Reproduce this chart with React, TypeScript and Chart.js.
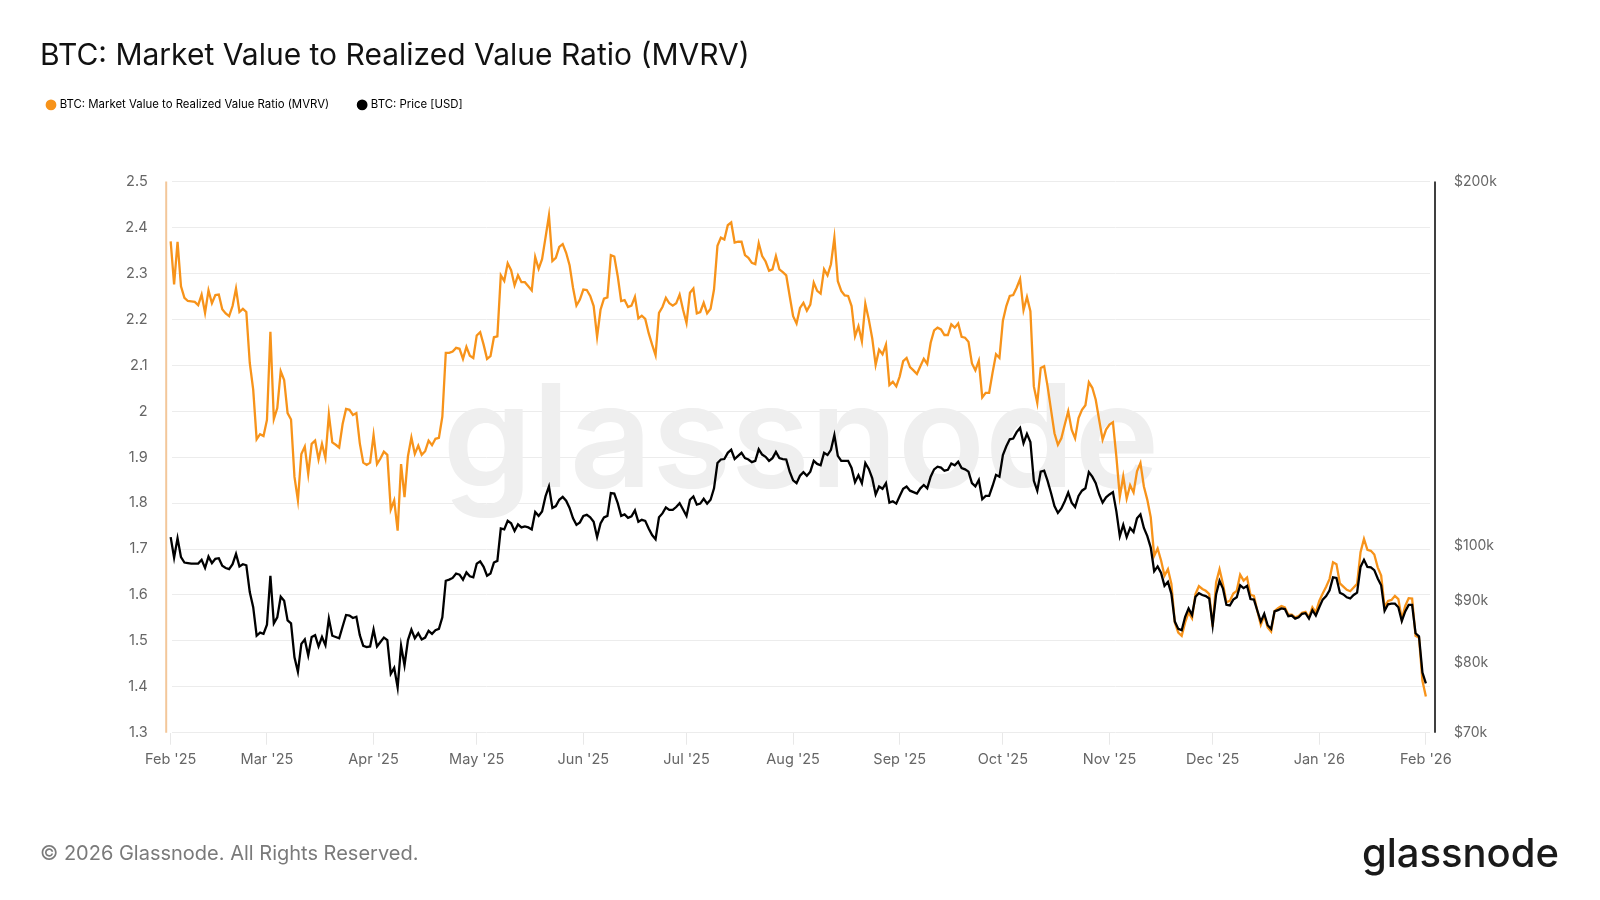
import { useEffect, useRef } from 'react'
import { Chart, registerables } from 'chart.js'

Chart.register(...registerables)

const FONT = 'Inter'

const titleText = 'BTC: Market Value to Realized Value Ratio (MVRV)'
const footerText = '© 2026 Glassnode. All Rights Reserved.'
const brandText = 'glassnode'

// days since 1 Feb 2025, one value per day
const mvrv = [
  2.37, 2.276, 2.369, 2.272, 2.247, 2.24, 2.239, 2.238, 2.231, 2.254,
  2.214, 2.263, 2.235, 2.253, 2.254, 2.222, 2.213, 2.207, 2.229, 2.267,
  2.216, 2.223, 2.216, 2.105, 2.047, 1.939, 1.95, 1.946, 1.981, 2.173,
  1.983, 2.007, 2.087, 2.068, 1.996, 1.982, 1.857, 1.806, 1.907, 1.923,
  1.863, 1.929, 1.936, 1.895, 1.929, 1.898, 1.993, 1.932, 1.927, 1.921,
  1.972, 2.005, 2.003, 1.992, 1.996, 1.93, 1.888, 1.883, 1.888, 1.948,
  1.885, 1.897, 1.912, 1.905, 1.786, 1.806, 1.74, 1.885, 1.813, 1.902,
  1.943, 1.907, 1.925, 1.905, 1.913, 1.936, 1.926, 1.94, 1.942, 1.988,
  2.127, 2.127, 2.13, 2.138, 2.136, 2.114, 2.14, 2.121, 2.116, 2.165,
  2.172, 2.145, 2.114, 2.12, 2.161, 2.163, 2.296, 2.284, 2.322, 2.307,
  2.274, 2.296, 2.281, 2.281, 2.272, 2.263, 2.336, 2.31, 2.331, 2.378,
  2.426, 2.327, 2.334, 2.358, 2.364, 2.345, 2.318, 2.269, 2.23, 2.243,
  2.265, 2.264, 2.251, 2.229, 2.162, 2.221, 2.245, 2.248, 2.34, 2.337,
  2.294, 2.24, 2.242, 2.227, 2.23, 2.249, 2.202, 2.208, 2.201, 2.17,
  2.145, 2.122, 2.214, 2.227, 2.247, 2.235, 2.23, 2.235, 2.254, 2.221,
  2.192, 2.258, 2.267, 2.213, 2.216, 2.236, 2.213, 2.223, 2.265, 2.36,
  2.378, 2.374, 2.405, 2.411, 2.367, 2.369, 2.369, 2.34, 2.334, 2.323,
  2.32, 2.366, 2.338, 2.326, 2.306, 2.309, 2.338, 2.309, 2.303, 2.296,
  2.251, 2.207, 2.191, 2.225, 2.236, 2.219, 2.232, 2.28, 2.262, 2.256,
  2.309, 2.296, 2.32, 2.378, 2.283, 2.262, 2.252, 2.251, 2.229, 2.163,
  2.185, 2.152, 2.234, 2.2, 2.159, 2.101, 2.134, 2.124, 2.145, 2.057,
  2.064, 2.054, 2.076, 2.109, 2.116, 2.096, 2.089, 2.081, 2.098, 2.114,
  2.103, 2.149, 2.176, 2.182, 2.178, 2.166, 2.166, 2.189, 2.182, 2.191,
  2.162, 2.16, 2.151, 2.104, 2.089, 2.11, 2.03, 2.04, 2.04, 2.084,
  2.124, 2.116, 2.197, 2.229, 2.251, 2.253, 2.269, 2.288, 2.22, 2.249,
  2.218, 2.054, 2.018, 2.094, 2.098, 2.054, 2.003, 1.952, 1.927, 1.941,
  1.971, 2.0, 1.96, 1.941, 1.985, 2.003, 2.013, 2.063, 2.051, 2.025,
  1.981, 1.938, 1.96, 1.971, 1.976, 1.901, 1.814, 1.858, 1.81, 1.839,
  1.823, 1.869, 1.887, 1.836, 1.807, 1.769, 1.685, 1.701, 1.675, 1.642,
  1.656, 1.624, 1.54, 1.518, 1.511, 1.54, 1.562, 1.549, 1.602, 1.619,
  1.613, 1.609, 1.602, 1.531, 1.627, 1.656, 1.624, 1.584, 1.587, 1.603,
  1.609, 1.644, 1.631, 1.638, 1.6, 1.598, 1.565, 1.535, 1.555, 1.529,
  1.52, 1.565, 1.571, 1.576, 1.573, 1.557, 1.557, 1.551, 1.554, 1.561,
  1.563, 1.551, 1.573, 1.562, 1.587, 1.603, 1.618, 1.635, 1.671, 1.667,
  1.625, 1.618, 1.611, 1.608, 1.616, 1.624, 1.693, 1.722, 1.698, 1.696,
  1.688, 1.66, 1.642, 1.573, 1.587, 1.589, 1.598, 1.591, 1.547, 1.576,
  1.593, 1.592, 1.511, 1.507, 1.413, 1.379,
]

// thousands of USD
const price = [
  101.6, 97.7, 101.4, 97.8, 96.8, 96.7, 96.6, 96.6, 96.6, 97.3,
  95.8, 97.9, 96.7, 97.5, 97.6, 96.2, 95.8, 95.6, 96.5, 98.4,
  96.1, 96.5, 96.3, 91.5, 88.9, 84.2, 84.7, 84.5, 86.0, 94.4,
  86.2, 87.2, 90.7, 90.0, 86.7, 86.2, 80.8, 78.6, 82.9, 83.6,
  81.1, 84.0, 84.3, 82.5, 84.0, 82.7, 87.0, 84.2, 84.0, 83.8,
  85.7, 87.6, 87.5, 87.1, 87.3, 84.3, 82.6, 82.4, 82.5, 85.2,
  82.5, 83.2, 83.9, 83.5, 78.3, 79.2, 76.3, 82.6, 79.6, 83.5,
  85.2, 83.8, 84.6, 83.6, 83.9, 85.0, 84.5, 85.1, 85.3, 87.2,
  93.5, 93.7, 94.0, 94.8, 94.6, 93.7, 95.0, 94.3, 94.1, 96.6,
  97.0, 96.0, 94.4, 94.8, 96.8, 97.1, 103.3, 103.1, 104.8, 104.3,
  102.8, 104.1, 103.5, 103.7, 103.5, 103.1, 106.6, 105.8, 106.7, 109.8,
  111.9, 107.4, 107.8, 109.1, 109.7, 108.9, 107.4, 105.3, 104.0, 104.5,
  105.8, 106.0, 105.5, 104.6, 101.6, 104.3, 105.5, 105.8, 110.5, 110.4,
  108.4, 105.8, 106.1, 105.4, 105.7, 106.9, 104.6, 105.0, 104.8, 103.3,
  102.0, 101.2, 105.5, 106.3, 107.5, 107.0, 107.0, 107.6, 108.4, 107.1,
  105.8, 109.1, 109.8, 108.1, 108.3, 109.3, 108.3, 109.1, 111.5, 117.0,
  117.8, 117.9, 119.3, 120.0, 117.9, 118.6, 119.3, 118.1, 117.8, 117.2,
  117.5, 120.1, 118.9, 118.4, 117.5, 118.1, 119.5, 118.1, 117.9, 117.8,
  115.1, 113.2, 112.6, 114.2, 115.0, 114.2, 115.1, 117.5, 116.8, 116.5,
  119.3, 118.8, 120.0, 123.4, 118.6, 117.5, 117.5, 117.5, 115.9, 112.8,
  114.3, 112.6, 117.0, 115.7, 113.7, 110.2, 111.9, 111.4, 112.6, 108.5,
  108.8, 108.3, 109.9, 111.4, 111.9, 111.0, 110.7, 110.4, 111.5, 112.2,
  111.5, 114.0, 115.6, 116.2, 116.0, 115.3, 115.5, 116.9, 116.5, 117.3,
  115.9, 115.6, 115.1, 112.6, 111.9, 113.3, 109.2, 109.9, 109.9, 112.0,
  114.4, 114.0, 118.8, 120.8, 122.4, 122.6, 124.1, 125.1, 121.5, 123.7,
  121.8, 113.1, 111.0, 115.1, 115.3, 113.1, 110.5, 107.8, 106.4, 107.3,
  108.8, 110.6, 108.5, 107.6, 109.9, 111.0, 111.5, 115.0, 114.0, 112.6,
  110.2, 108.5, 109.6, 110.2, 110.7, 106.7, 101.8, 104.0, 101.6, 103.4,
  102.6, 105.3, 106.1, 103.4, 101.8, 99.6, 95.2, 96.1, 94.9, 92.6,
  93.3, 91.2, 86.5, 85.3, 85.1, 87.3, 88.7, 87.6, 90.7, 91.3,
  91.0, 90.8, 90.4, 85.9, 91.1, 93.5, 92.1, 89.3, 89.2, 90.2,
  90.6, 92.7, 92.2, 92.6, 90.3, 90.2, 88.3, 86.5, 87.8, 85.9,
  85.3, 88.2, 88.4, 88.7, 88.6, 87.4, 87.5, 87.0, 87.2, 87.8,
  87.9, 87.0, 88.4, 87.5, 88.9, 90.2, 90.8, 91.8, 94.1, 94.0,
  91.4, 91.1, 90.6, 90.4, 91.0, 91.4, 96.0, 97.3, 96.0, 95.9,
  95.4, 93.9, 92.7, 88.3, 89.4, 89.5, 89.5, 88.9, 86.6, 88.2,
  89.3, 89.3, 84.6, 84.1, 78.5, 76.9,
]

const days = mvrv.map((_, i) => i)

const monthDays = [0, 28, 59, 89, 120, 150, 181, 212, 242, 273, 303, 334, 365]
const monthLabels = [
  "Feb '25", "Mar '25", "Apr '25", "May '25", "Jun '25", "Jul '25", "Aug '25",
  "Sep '25", "Oct '25", "Nov '25", "Dec '25", "Jan '26", "Feb '26",
]
const priceTicks = [70, 80, 90, 100, 200]

// watermark under the lines, footer text, and the two coloured axis rails
const decorations = {
  id: 'decorations',
  afterLayout(chart) {
    chart.legend.left -= 22
    chart.legend.right -= 22
    chart.legend.top -= 61
    chart.legend.bottom -= 61
  },
  beforeDatasetsDraw(chart) {
    const { ctx, chartArea } = chart
    ctx.save()
    ctx.fillStyle = '#efefef'
    ctx.font = `600 143.5px ${FONT}`
    ctx.textAlign = 'center'
    ctx.textBaseline = 'alphabetic'
    ctx.fillText(brandText, 801, 487)
    ctx.restore()
    ctx.save()
    ctx.lineWidth = 2
    ctx.strokeStyle = '#f3c79a'
    ctx.beginPath()
    ctx.moveTo(chartArea.left - 5.5, chartArea.top)
    ctx.lineTo(chartArea.left - 5.5, chartArea.bottom)
    ctx.stroke()
    ctx.strokeStyle = '#000000'
    ctx.lineWidth = 1.5
    ctx.beginPath()
    ctx.moveTo(chartArea.right + 5, chartArea.top)
    ctx.lineTo(chartArea.right + 5, chartArea.bottom)
    ctx.stroke()
    ctx.restore()
  },
  afterDraw(chart) {
    const { ctx } = chart
    ctx.save()
    ctx.textBaseline = 'alphabetic'
    ctx.textAlign = 'left'
    ctx.fillStyle = '#7a7a7a'
    ctx.font = `400 20px ${FONT}`
    ctx.fillText(footerText, 40, 860)
    ctx.fillStyle = '#1a1a1a'
    ctx.font = `500 40px ${FONT}`
    ctx.textAlign = 'right'
    ctx.fillText(brandText, 1559, 867)
    ctx.restore()
  },
}

const App = () => {
  const chartRef = useRef(null)

  useEffect(() => {
    const chart = new Chart(chartRef.current.getContext('2d'), {
      type: 'line',
      data: {
        labels: days,
        datasets: [
          {
            label: 'BTC: Market Value to Realized Value Ratio (MVRV)',
            data: mvrv,
            yAxisID: 'y',
            order: 2,
            clip: false,
            borderColor: '#f7931a',
            backgroundColor: '#f7931a',
            borderWidth: 2.3,
            pointRadius: 0,
            tension: 0,
          },
          {
            label: 'BTC: Price [USD]',
            data: price,
            yAxisID: 'yPrice',
            order: 1,
            clip: false,
            borderColor: '#000000',
            backgroundColor: '#000000',
            borderWidth: 2.3,
            pointRadius: 0,
            tension: 0,
          },
        ],
      },
      options: {
        responsive: false,
        animation: false,
        layout: { padding: { left: 40, right: 0, top: 41, bottom: 117.3 } },
        plugins: {
          tooltip: { enabled: false },
          title: {
            display: true,
            text: titleText,
            align: 'start',
            color: '#111111',
            font: { family: FONT, size: 30, weight: '400', lineHeight: 1 },
            padding: { top: 0, bottom: 59.2 },
          },
          legend: {
            display: true,
            position: 'top',
            align: 'start',
            labels: {
              usePointStyle: true,
              pointStyle: 'circle',
              boxWidth: 6,
              boxHeight: 6,
              padding: 30,
              color: '#000000',
              font: { family: FONT, size: 11.4 },
              sort: (a, b) => a.datasetIndex - b.datasetIndex,
            },
          },
        },
        scales: {
          x: {
            type: 'linear',
            min: 0.3,
            max: 366.2,
            grid: { drawOnChartArea: false, tickLength: 12, tickColor: '#e8e8e8' },
            border: { display: false },
            afterBuildTicks: (axis) => {
              axis.ticks = monthDays.map((value) => ({ value }))
            },
            afterFit: (axis) => {
              axis.height = 50
            },
            ticks: {
              autoSkip: false,
              maxRotation: 0,
              color: '#666666',
              padding: 6,
              font: { family: FONT, size: 14.5 },
              callback: (value) => monthLabels[monthDays.indexOf(value)],
            },
          },
          y: {
            position: 'left',
            min: 1.3,
            max: 2.5,
            grid: { color: '#ececec', lineWidth: 1, drawTicks: false },
            border: { display: false },
            afterFit: (axis) => {
              axis.width = 131.7
            },
            ticks: {
              stepSize: 0.1,
              padding: 24,
              color: '#666666',
              font: { family: FONT, size: 14.5 },
              callback: (value) => String(Number(Number(value).toFixed(1))),
            },
          },
          yPrice: {
            type: 'logarithmic',
            position: 'right',
            min: 70,
            max: 200,
            grid: { display: false, drawTicks: false },
            border: { display: false },
            afterBuildTicks: (axis) => {
              axis.ticks = priceTicks.map((value) => ({ value }))
            },
            afterFit: (axis) => {
              axis.width = 170
            },
            ticks: {
              padding: 24,
              color: '#666666',
              font: { family: FONT, size: 14 },
              callback: (value) => `$${value}k`,
            },
          },
        },
      },
      plugins: [decorations],
    })

    return () => chart.destroy()
  }, [])

  return (
    <div style={{ position: 'fixed', left: 0, top: 0, width: 1600, height: 900, background: '#ffffff' }}>
      <canvas ref={chartRef} width={1600} height={900} style={{ display: 'block' }} />
    </div>
  )
}

export default App
